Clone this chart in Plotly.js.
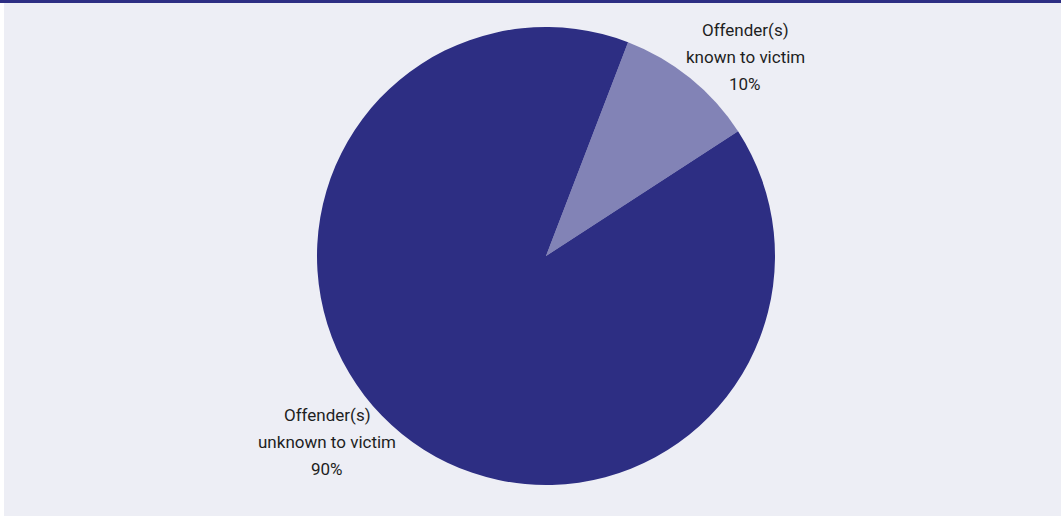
<!DOCTYPE html>
<html>
<head>
<meta charset="utf-8">
<script src="https://cdn.plot.ly/plotly-3.0.1.min.js"></script>
<style>
html,body{margin:0;padding:0;background:#ffffff;}
#chart{width:1061px;height:516px;}
</style>
</head>
<body>
<div id="chart"></div>
<script>
const categories = ["Offender(s)<br>known to victim", "Offender(s)<br>unknown to victim"];
const values = [10, 90];
const sliceColors = ["#8283b6", "#2d2e83"];
const labelX = [745, 327];
const labelTopY = [30, 415];
const lineGap = 27;

const W = 1061, H = 516;
const cx = 546, cy = 256, r = 229;

const trace = {
  type: "pie",
  labels: categories,
  values: values,
  sort: false,
  direction: "clockwise",
  rotation: 21,
  marker: {colors: sliceColors, line: {width: 0}},
  textinfo: "none",
  hoverinfo: "label+percent",
  showlegend: false,
  domain: {x: [(cx - r) / W, (cx + r) / W], y: [(H - cy - r) / H, (H - cy + r) / H]}
};

const annotations = [];
categories.forEach((c, i) => {
  const lines = (c + "<br>" + values[i] + "%").split("<br>");
  lines.forEach((ln, j) => {
    annotations.push({
      text: ln,
      xref: "paper", yref: "paper",
      x: labelX[i] / W, y: 1 - (labelTopY[i] + j * lineGap) / H,
      xanchor: "center", yanchor: "middle",
      showarrow: false,
      font: {family: "Roboto, 'Liberation Sans', sans-serif", size: 17, color: "#1e1e1e"}
    });
  });
});

const layout = {
  width: W, height: H,
  margin: {l: 0, r: 0, t: 0, b: 0},
  paper_bgcolor: "#edeef5",
  annotations: annotations,
  shapes: [
    {type: "rect", xref: "paper", yref: "paper", x0: 0, x1: 1, y0: 1 - 3 / H, y1: 1, fillcolor: "#2d2e83", line: {width: 0}, layer: "above"},
    {type: "rect", xref: "paper", yref: "paper", x0: 0, x1: 4 / W, y0: 0, y1: 1 - 3 / H, fillcolor: "#ffffff", line: {width: 0}, layer: "above"}
  ]
};

Plotly.newPlot("chart", [trace], layout, {displayModeBar: false, staticPlot: true});
</script>
</body>
</html>
